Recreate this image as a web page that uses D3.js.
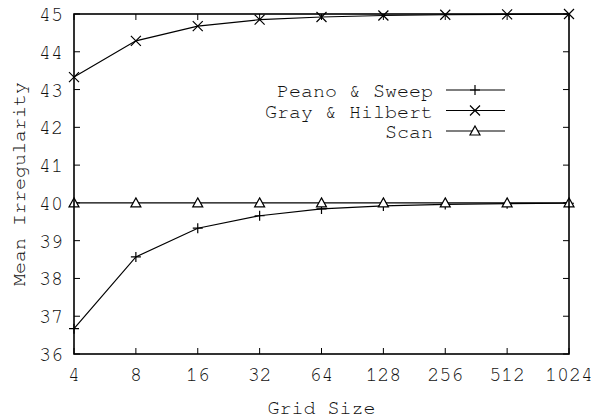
<!DOCTYPE html>
<html>
<head>
<meta charset="utf-8">
<script src="https://cdn.jsdelivr.net/npm/d3@7"></script>
<style>
  body { margin: 0; background: #fff; }
  text { font-family: "Nimbus Mono PS", "Nimbus Mono L", "FreeMono", "Courier New", Courier, "Liberation Mono", monospace; fill: #111; }
</style>
</head>
<body>
<svg id="chart" width="599" height="417"></svg>
<script>
// grid sizes along x (log2 axis)
const gridSizes = [4, 8, 16, 32, 64, 128, 256, 512, 1024];
const yTicks = [36, 37, 38, 39, 40, 41, 42, 43, 44, 45];

const peanoSweep = [36.67, 38.57, 39.33, 39.66, 39.84, 39.92, 39.96, 39.98, 39.99];
const grayHilbert = [43.33, 44.29, 44.68, 44.85, 44.92, 44.96, 44.98, 44.99, 45.0];
const scan = [40, 40, 40, 40, 40, 40, 40, 40, 40];

const seriesNames = ['Peano & Sweep', 'Gray & Hilbert', 'Scan'];
const seriesMarkers = ['plus', 'cross', 'triangle'];

var margin = { top: 14, right: 30, bottom: 63, left: 74 };
var svg = d3.select('#chart');
var width = svg.attr('width') - margin.left - margin.right;
var height = svg.attr('height') - margin.top - margin.bottom;
var fontSize = '20px';

var x = d3.scaleLog().base(2)
    .domain([4, 1024])
    .range([0, width]);

var y = d3.scaleLinear()
    .domain([36, 45])
    .range([height, 0]);

var g = svg.append('g')
    .attr('transform', 'translate(' + margin.left + ',' + margin.top + ')');

//tick marks on all four sides, pointing inward
var tickLen = 6;
g.selectAll('.ytick')
    .data(yTicks)
    .enter().append('g')
    .each(function(d) {
        var t = d3.select(this);
        t.append('line').attr('x1', 0).attr('x2', tickLen).attr('y1', y(d)).attr('y2', y(d));
        t.append('line').attr('x1', width).attr('x2', width - tickLen).attr('y1', y(d)).attr('y2', y(d));
        t.append('text')
            .attr('x', -11).attr('y', y(d)).attr('dy', '0.35em')
            .attr('text-anchor', 'end')
            .style('font-size', fontSize)
            .text(d);
    })
    .selectAll('line').attr('stroke', '#000').attr('stroke-width', 1);

g.selectAll('.xtick')
    .data(gridSizes)
    .enter().append('g')
    .each(function(d) {
        var t = d3.select(this);
        t.append('line').attr('x1', x(d)).attr('x2', x(d)).attr('y1', height).attr('y2', height - tickLen);
        t.append('line').attr('x1', x(d)).attr('x2', x(d)).attr('y1', 0).attr('y2', tickLen);
        t.append('text')
            .attr('x', x(d)).attr('y', height + 27)
            .attr('text-anchor', 'middle')
            .style('font-size', fontSize)
            .text(d);
    })
    .selectAll('line').attr('stroke', '#000').attr('stroke-width', 1);

//markers
function marker(sel, type) {
    var s = 5;
    if (type === 'plus') {
        sel.append('path').attr('d', 'M' + -s + ',0H' + s + 'M0,' + -s + 'V' + s);
    } else if (type === 'cross') {
        sel.append('path').attr('d', 'M' + -s + ',' + -s + 'L' + s + ',' + s + 'M' + -s + ',' + s + 'L' + s + ',' + -s);
    } else {
        sel.append('path').attr('d', 'M0,-5L5,4H-5Z').attr('fill', '#fff');
    }
    sel.selectAll('path').attr('stroke', '#000').attr('stroke-width', 1.2);
    if (type !== 'triangle') sel.selectAll('path').attr('fill', 'none');
}

var line = d3.line()
    .x(d => x(d[0]))
    .y(d => y(d[1]));

[peanoSweep, grayHilbert, scan].forEach(function(vals, i) {
    var pts = gridSizes.map((gs, j) => [gs, vals[j]]);
    g.append('path')
        .datum(pts)
        .attr('d', line)
        .attr('fill', 'none')
        .attr('stroke', '#000')
        .attr('stroke-width', 1.2);
    g.selectAll('.m' + i)
        .data(pts)
        .enter().append('g')
        .attr('transform', d => 'translate(' + x(d[0]) + ',' + y(d[1]) + ')')
        .each(function() { marker(d3.select(this), seriesMarkers[i]); });
});

//border
g.append('rect')
    .attr('width', width)
    .attr('height', height)
    .attr('fill', 'none')
    .attr('stroke', '#000')
    .attr('stroke-width', 1.6);

//legend
var legend = g.append('g').attr('transform', 'translate(' + (433 - margin.left) + ',' + (90 - margin.top) + ')');
seriesNames.forEach(function(name, i) {
    var row = legend.append('g').attr('transform', 'translate(0,' + (i * 20.5) + ')');
    row.append('text')
        .attr('x', 0).attr('dy', '0.35em')
        .attr('text-anchor', 'end')
        .style('font-size', fontSize)
        .text(name);
    row.append('line')
        .attr('x1', 13).attr('x2', 72)
        .attr('stroke', '#000').attr('stroke-width', 1.2);
    row.append('g').attr('transform', 'translate(42,0)')
        .each(function() { marker(d3.select(this), seriesMarkers[i]); });
});

//axis titles
svg.append('text')
    .attr('x', margin.left + width / 2)
    .attr('y', 407)
    .attr('dy', '0.35em')
    .attr('text-anchor', 'middle')
    .style('font-size', fontSize)
    .text('Grid Size');

svg.append('text')
    .attr('transform', 'translate(18,' + (margin.top + height / 2) + ') rotate(-90)')
    .attr('dy', '0.35em')
    .attr('text-anchor', 'middle')
    .style('font-size', fontSize)
    .text('Mean Irregularity');
</script>
</body>
</html>
